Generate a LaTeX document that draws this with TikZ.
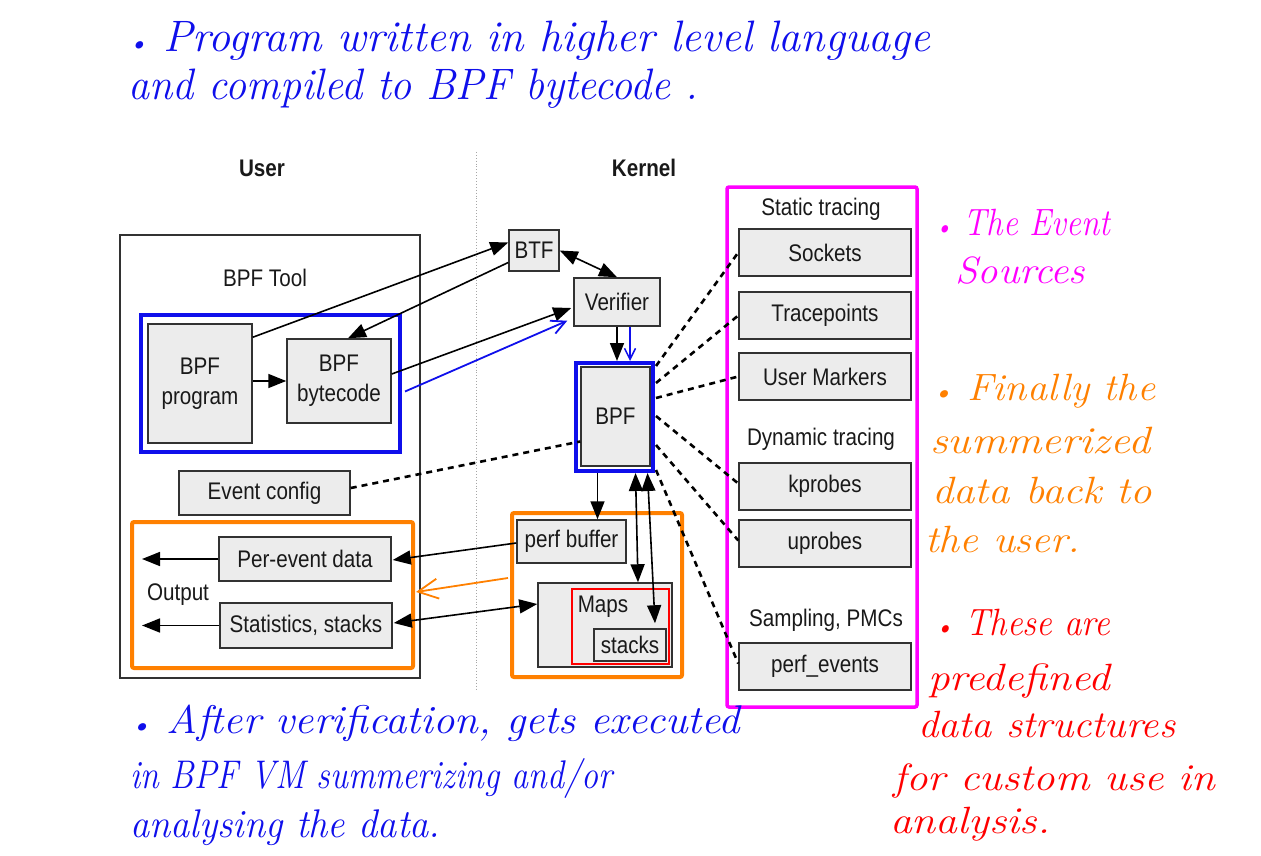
\documentclass[tikz,border=0pt]{standalone}
\usepackage{fontspec}
\usepackage{graphicx}
\usetikzlibrary{arrows.meta,calc}
\newfontfamily\lab{Liberation Sans}[FakeStretch=0.86]
\newcommand\hand{\itshape}
\definecolor{boxfill}{RGB}{236,236,236}
\definecolor{boxline}{RGB}{50,50,50}
\definecolor{hblue}{RGB}{15,15,235}
\definecolor{hmag}{RGB}{255,0,255}
\definecolor{horange}{RGB}{255,128,0}
\definecolor{hred}{RGB}{255,0,0}
\newsavebox\hwbox
\newcommand\hw[3]{%
  \sbox\hwbox{\hand\fontsize{#2}{#2}\selectfont #3}%
  \edef\hwid{\the\wd\hwbox}%
  \pgfmathsetmacro\hsx{#1/\hwid}%
  \scalebox{\hsx}[1]{\usebox\hwbox}}
\newcommand\hb{{\fontsize{26}{26}\selectfont\textbullet}\ }
\begin{document}
\begin{tikzpicture}[x=1pt,y=-1pt,
  lbl/.style={font=\lab\fontsize{24}{30}\selectfont, inner sep=0pt, text=black!90},
  gbox/.style={lbl, draw=boxline, fill=boxfill, line width=1.5pt, align=center},
  frm/.style={draw=#1, inner sep=0pt},
  arr/.style={-{Triangle[length=18pt,width=14pt]}, line width=1.6pt},
  darr/.style={{Triangle[length=18pt,width=14pt]}-{Triangle[length=18pt,width=14pt]}, line width=1.6pt},
  evline/.style={line width=2.6pt, dash pattern=on 6pt off 5pt},
  handarr/.style={-{Straight Barb[length=#1pt,width=#1pt]}, line width=1.8pt},
  hnote/.style={anchor=base west, inner sep=0pt}]
\useasboundingbox (0,0) rectangle (1261,856);

% separator
\coordinate (sepT) at (476,152);
\coordinate (sepB) at (476,690);
\draw[gray!70, line width=0.9pt, dotted] (sepT) -- (sepB);

% headers
\node[lbl, font=\lab\bfseries\fontsize{24}{28}\selectfont] (user) at (262,168) {User};
\node[lbl, font=\lab\bfseries\fontsize{24}{28}\selectfont] (kernel) at (644,168) {Kernel};

% user side frames
\node[frm=boxline, line width=1.3pt, minimum width=300pt, minimum height=443pt] (tool) at (270,456.5) {};
\node[lbl] (tooll) at (265,278) {BPF Tool};
\node[frm=hblue, line width=4pt, minimum width=259pt, minimum height=137pt] (blueU) at (270.5,383.5) {};
\node[frm=horange, line width=4pt, minimum width=281pt, minimum height=146pt, rounded corners=2pt] (outU) at (272.5,595) {};

\node[gbox, minimum width=104pt, minimum height=119pt] (prog) at (200,383.5) {BPF\\program};
\node[gbox, minimum width=104pt, minimum height=84pt] (bytec) at (339,381) {BPF\\bytecode};
\node[gbox, minimum width=171pt, minimum height=44pt] (evcfg) at (264.5,493) {Event config};
\node[gbox, minimum width=172pt, minimum height=44pt] (perev) at (305,559) {Per-event data};
\node[gbox, minimum width=172pt, minimum height=45pt] (stats) at (306,625.5) {Statistics, stacks};
\node[lbl] (outl) at (178,595) {Output};
\coordinate (o1) at (142,559);
\coordinate (o2) at (142,625.5);

% kernel side
\node[gbox, minimum width=50pt, minimum height=41pt] (btf) at (534,250.5) {BTF};
\node[gbox, minimum width=86pt, minimum height=48pt] (verif) at (617,302) {Verifier};
\node[frm=hblue, line width=4pt, minimum width=77pt, minimum height=108pt] (bpfB) at (614.5,417) {};
\node[gbox, minimum width=69pt, minimum height=99pt] (bpf) at (615.5,416.5) {BPF};
\node[frm=horange, line width=4pt, minimum width=170pt, minimum height=164pt, rounded corners=2pt] (kout) at (597,595) {};
\node[gbox, minimum width=109pt, minimum height=43pt] (perfbuf) at (571.5,541.5) {perf buffer};
\node[gbox, minimum width=134pt, minimum height=84pt] (maps) at (605,625) {};
\node[frm=hred, line width=2.2pt, minimum width=97pt, minimum height=75pt] (redb) at (620.5,626.5) {};
\node[lbl] (mapsl) at (603,607) {Maps};
\node[gbox, minimum width=72pt, minimum height=32pt] (stacks) at (630,645) {stacks};

% event sources
\node[frm=hmag, line width=3.5pt, minimum width=190pt, minimum height=520pt, rounded corners=2pt] (src) at (822,447) {};
\node[lbl] (statl) at (821,209) {Static tracing};
\node[gbox, minimum width=172pt, minimum height=47pt] (sock) at (825,252.5) {Sockets};
\node[gbox, minimum width=172pt, minimum height=47pt] (tracep) at (825,315.5) {Tracepoints};
\node[gbox, minimum width=172pt, minimum height=47pt] (umark) at (825,376.5) {User Markers};
\node[lbl] (dynl) at (821,439) {Dynamic tracing};
\node[gbox, minimum width=172pt, minimum height=47pt] (kprobes) at (825,486.5) {kprobes};
\node[gbox, minimum width=172pt, minimum height=47pt] (uprobes) at (825,543.5) {uprobes};
\node[lbl] (sampl) at (826,620) {Sampling, PMCs};
\node[gbox, minimum width=172pt, minimum height=47pt] (perfev) at (825,666.5) {perf\_events};

% helper coordinates
\coordinate (pbTop) at ($(bpfB.south)+(-17,0)$);
\coordinate (vfBl) at ($(verif.south)+(13,0)$);

% connectors
\draw[arr] (prog.east |- bytec.west) -- (bytec.west);
\draw[arr] ($(prog.north east)+(0,14)$) -- ($(btf.west)+(0,-8)$);
\draw[arr] ($(btf.west)+(0,12)$) -- ($(bytec.north)+(9,0)$);
\draw[arr] ($(bytec.east)+(0,-7)$) -- ($(verif.west)+(-2,6)$);
\draw[darr] (btf.east) -- (verif.north);
\draw[arr] (verif.south) -- (verif.south |- bpfB.north);
\draw[arr] (pbTop) -- (pbTop |- perfbuf.north);
\draw[darr] ($(bpfB.south)+(21,0)$) -- ($(maps.north)+(33,0)$);
\draw[darr] ($(bpfB.south)+(33,0)$) -- ($(stacks.north)+(25,-5)$);
\draw[arr] ($(perfbuf.west)+(0,1.5)$) -- ($(perev.east)+(1,1)$);
\draw[darr] ($(maps.west)+(0,-21)$) -- ($(stats.east)+(1,-2.5)$);
\draw[arr] (perev.west) -- (o1);
\draw[arr] (stats.west) -- (o2);

% dashed event lines
\draw[evline] ($(evcfg.east)+(0,-5)$) -- ($(bpf.west)+(0,25)$);
\draw[evline] ($(bpfB.north east)+(1,5)$) -- (sock.west);
\draw[evline] ($(bpfB.north east)+(1,22)$) -- (tracep.west);
\draw[evline] ($(bpfB.north east)+(1,37)$) -- (umark.west);
\draw[evline] ($(bpfB.north east)+(1,55)$) -- ($(kprobes.west)+(0,-3)$);
\draw[evline] ($(bpfB.north east)+(1,84)$) -- ($(uprobes.west)+(0,-3)$);
\draw[evline] ($(bpfB.south east)+(1,-3)$) -- ($(perfev.west)+(0,-3)$);

% hand-drawn arrows
\draw[hblue, handarr=14] ($(blueU.east)+(3,8)$) -- ($(verif.south west)+(-6,-6)$);
\draw[hblue, handarr=11, line width=1.5pt] (vfBl) -- (vfBl |- bpfB.north);
\draw[horange, handarr=20] ($(kout.west)+(-2,-17)$) -- ($(outU.east)+(1,-3)$);

% handwritten notes
\node[hnote, text=hblue] (n1) at (128,52) {\hw{802}{44}{\hb Program written in higher level language}};
\node[hnote, text=hblue] (n2) at (128,100) {\hw{570}{44}{and compiled to BPF bytecode .}};
\node[hnote, text=hblue] (n3) at (130,733) {\hw{610}{40}{\hb After verification, gets executed}};
\node[hnote, text=hblue] (n4) at (130,788) {\hw{482}{40}{in BPF VM summerizing and/or}};
\node[hnote, text=hblue] (n5) at (130,837) {\hw{310}{40}{analysing the data.}};
\node[hnote, text=hmag] (m1) at (935,235) {\hw{175}{38}{\hb The Event}};
\node[hnote, text=hmag] (m2) at (955,283) {\hw{130}{38}{Sources}};
\node[hnote, text=horange] (r1) at (932,400) {\hw{223}{38}{\hb Finally the}};
\node[hnote, text=horange] (r2) at (930,453) {\hw{220}{38}{summerized}};
\node[hnote, text=horange] (r3) at (932,503) {\hw{220}{38}{data back to}};
\node[hnote, text=horange] (r4) at (925,552) {\hw{155}{38}{the user.}};
\node[hnote, text=hred] (d1) at (935,635) {\hw{175}{38}{\hb These are}};
\node[hnote, text=hred] (d2) at (928,690) {\hw{182}{38}{predefined}};
\node[hnote, text=hred] (d3) at (918,737) {\hw{257}{38}{data structures}};
\node[hnote, text=hred] (d4) at (893,790) {\hw{322}{38}{for custom use in}};
\node[hnote, text=hred] (d5) at (890,833) {\hw{160}{38}{analysis.}};
\end{tikzpicture}
\end{document}
